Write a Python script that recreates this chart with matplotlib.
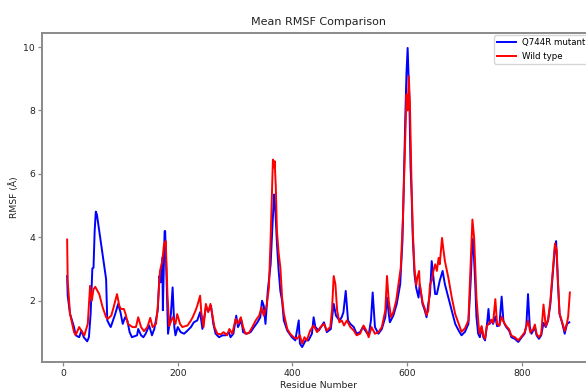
import matplotlib
matplotlib.use("Agg")
import matplotlib.pyplot as plt

# Per-residue mean RMSF (Å)
wt_residue = [7, 8, 12, 19, 22, 28, 32, 37, 43, 47, 50, 53, 56, 63, 69, 75, 78, 84, 88, 94,
              98, 101, 106, 109, 113, 121, 127, 131, 136, 141, 147, 152, 156, 162, 165, 169, 173, 176, 179, 182,
              185, 191, 196, 199, 204, 208, 217, 223, 226, 231, 234, 239, 241, 245, 249, 253, 257, 260, 264, 269,
              275, 280, 286, 290, 295, 301, 305, 310, 314, 318, 324, 330, 336, 342, 346, 350, 355, 359, 362, 364,
              366, 368, 369, 371, 373, 376, 379, 382, 385, 391, 396, 402, 408, 413, 417, 421, 425, 431, 437, 443,
              449, 455, 460, 466, 469, 472, 475, 478, 482, 486, 490, 495, 501, 507, 512, 518, 524, 529, 533, 538,
              544, 550, 556, 562, 565, 568, 572, 576, 581, 585, 589, 593, 597, 599, 601, 603, 605, 608, 610, 613,
              616, 618, 621, 622, 627, 631, 634, 637, 640, 643, 646, 649, 652, 655, 657, 661, 663, 666, 672, 678,
              684, 690, 695, 701, 707, 711, 714, 717, 721, 725, 727, 730, 733, 736, 739, 744, 747, 750, 754, 757,
              761, 765, 768, 773, 778, 782, 788, 794, 800, 805, 811, 815, 820, 823, 826, 830, 834, 838, 842, 846,
              850, 855, 858, 861, 863, 866, 871, 875, 879, 881, 884]
wt_rmsf = [3.93, 2.63, 1.59, 1.01, 0.92, 1.17, 1.05, 0.91, 1.27, 2.47, 2.0, 2.36, 2.44, 2.21, 1.79, 1.48, 1.43, 1.53, 1.79, 2.21,
           1.84, 1.74, 1.74, 1.58, 1.27, 1.17, 1.17, 1.48, 1.17, 1.04, 1.17, 1.46, 1.17, 1.27, 1.79, 2.94, 3.25, 3.79, 3.88, 2.2,
           1.2, 1.48, 1.27, 1.58, 1.27, 1.17, 1.22, 1.38, 1.48, 1.69, 1.84, 2.16, 1.64, 1.17, 1.90, 1.64, 1.90, 1.58, 1.17, 0.96,
           0.94, 1.01, 0.91, 1.11, 0.96, 1.43, 1.27, 1.48, 1.17, 0.96, 0.98, 1.17, 1.38, 1.53, 1.79, 1.53, 1.84, 2.41, 3.98, 5.23,
           6.45, 6.2, 6.4, 5.6, 4.2, 3.5, 3.04, 2.1, 1.6, 1.11, 0.96, 0.85, 0.80, 0.91, 0.65, 0.85, 0.75, 1.06, 1.22, 1.01,
           1.17, 1.27, 1.06, 1.17, 1.69, 2.78, 2.52, 1.69, 1.32, 1.38, 1.22, 1.38, 1.17, 1.06, 0.91, 0.96, 1.22, 1.06, 0.85, 1.17,
           0.96, 1.01, 1.17, 1.69, 2.78, 2.0, 1.48, 1.64, 2.0, 2.52, 3.04, 4.71, 7.3, 8.5, 8.0, 9.08, 8.2, 5.5, 4.2, 3.0,
           2.5, 2.73, 2.94, 2.55, 1.95, 1.75, 1.55, 1.69, 2.52, 2.63, 2.94, 3.15, 2.94, 3.35, 3.15, 3.98, 3.67, 3.25, 2.73, 2.1,
           1.58, 1.27, 1.02, 1.13, 1.38, 3.15, 4.56, 3.98, 2.1, 1.17, 0.95, 1.2, 0.9, 0.8, 1.2, 1.3, 1.4, 1.3, 2.05, 1.27,
           1.22, 1.5, 1.35, 1.2, 1.1, 0.9, 0.85, 0.75, 0.88, 1.0, 1.38, 1.0, 1.1, 1.25, 0.95, 0.85, 0.95, 1.88, 1.2, 1.4,
           2.0, 3.13, 3.8, 3.6, 2.7, 1.6, 1.3, 1.05, 1.3, 1.5, 2.26]

mut_residue = [7, 8, 12, 19, 22, 28, 32, 36, 42, 45, 48, 51, 53, 55, 57, 59, 75, 77, 80, 83,
               85, 91, 96, 100, 104, 108, 112, 116, 120, 129, 131, 136, 140, 144, 150, 155, 159, 165, 168, 170,
               173, 174, 177, 178, 180, 183, 188, 191, 194, 196, 200, 205, 211, 217, 223, 228, 234, 239, 243, 249,
               254, 258, 262, 266, 272, 278, 283, 289, 292, 297, 302, 305, 311, 314, 320, 327, 333, 339, 344, 347,
               350, 353, 357, 362, 365, 368, 370, 373, 376, 379, 382, 385, 391, 399, 405, 411, 413, 417, 423, 428,
               434, 437, 440, 446, 455, 460, 467, 472, 476, 482, 486, 489, 493, 497, 501, 507, 512, 518, 523, 529,
               533, 537, 540, 544, 550, 556, 562, 565, 568, 570, 576, 582, 588, 592, 595, 597, 599, 601, 604, 606,
               608, 610, 613, 616, 620, 622, 627, 631, 634, 637, 640, 643, 646, 649, 652, 657, 662, 666, 672, 678,
               684, 690, 695, 701, 707, 711, 714, 716, 719, 721, 724, 727, 730, 733, 736, 739, 742, 744, 747, 750,
               754, 757, 761, 765, 768, 770, 773, 778, 782, 788, 794, 800, 805, 808, 811, 814, 817, 820, 823, 826,
               830, 834, 838, 842, 846, 850, 855, 858, 860, 863, 866, 871, 875, 879, 883]
mut_rmsf = [2.78, 2.16, 1.59, 1.17, 0.91, 0.85, 1.06, 0.85, 0.72, 0.85, 1.59, 3.02, 3.04, 4.19, 4.81, 4.71, 2.68, 1.38, 1.27, 1.17,
            1.27, 1.59, 1.90, 1.64, 1.27, 1.48, 1.38, 1.01, 0.85, 0.91, 1.11, 0.91, 0.85, 0.96, 1.22, 0.91, 1.11, 1.69, 2.78, 2.58,
            3.36, 1.7, 4.19, 4.2, 3.0, 0.96, 1.58, 2.42, 1.17, 0.91, 1.17, 1.01, 0.96, 1.06, 1.17, 1.32, 1.38, 1.64, 1.11, 1.79,
            1.69, 1.84, 1.27, 0.96, 0.85, 0.91, 0.91, 1.01, 0.85, 0.96, 1.53, 1.17, 1.38, 1.01, 0.96, 1.01, 1.17, 1.32, 1.48, 2.0,
            1.84, 1.27, 2.31, 3.15, 4.3, 5.35, 4.94, 3.8, 2.94, 2.3, 2.0, 1.38, 1.06, 0.85, 0.75, 1.38, 0.65, 0.54, 0.75, 0.75,
            0.96, 1.48, 1.17, 1.06, 1.32, 1.01, 1.11, 1.90, 1.53, 1.38, 1.48, 1.64, 2.31, 1.38, 1.27, 1.17, 0.96, 1.01, 1.17, 1.01,
            0.91, 1.38, 2.26, 1.17, 0.96, 1.11, 1.48, 2.1, 1.6, 1.32, 1.53, 1.9, 2.52, 3.9, 6.27, 7.83, 9.19, 9.97, 8.35, 6.27,
            5.33, 3.98, 2.83, 2.4, 2.1, 2.52, 1.9, 1.69, 1.48, 1.9, 2.21, 3.25, 2.73, 2.21, 2.21, 2.63, 2.94, 2.52, 2.1, 1.69,
            1.27, 1.06, 0.91, 1.02, 1.27, 2.63, 3.95, 3.67, 2.5, 1.5, 0.96, 0.85, 1.17, 0.85, 0.75, 1.17, 1.74, 1.27, 1.38, 1.27,
            1.5, 1.2, 1.22, 2.13, 1.38, 1.27, 1.17, 1.06, 0.85, 0.8, 0.70, 0.85, 0.96, 1.2, 2.21, 1.2, 0.96, 1.06, 1.15, 0.91,
            0.8, 0.91, 1.3, 1.17, 1.38, 1.9, 3.0, 3.7, 3.88, 2.63, 1.58, 1.27, 0.96, 1.27, 1.32]

series_labels = ["Q744R mutant", "Wild type"]

FS = 6.7  # base text size

fig = plt.figure(figsize=(5.86, 3.92), dpi=100)
# axes run slightly past the right edge of the canvas
ax = fig.add_axes([42 / 586, 30 / 392, 553 / 586, 329 / 392])

ax.plot(mut_residue, mut_rmsf, color="blue", lw=1.4, label=series_labels[0])
ax.plot(wt_residue, wt_rmsf, color="red", lw=1.4, label=series_labels[1])

ax.set_xticks([0, 200, 400, 600, 800])
ax.set_yticks([2, 4, 6, 8, 10])
ax.set_title("Mean RMSF Comparison", fontsize=8.0, color="#222222", pad=6)
ax.set_xlabel("Residue Number", fontsize=FS, color="#222222", labelpad=2.5)
ax.set_ylabel("RMSF (Å)", fontsize=FS, color="#222222", labelpad=3)

for side in ax.spines.values():
    side.set_color("#8a8a8a")
    side.set_linewidth(1.4)
ax.tick_params(colors="#8a8a8a", labelcolor="#222222", labelsize=FS, width=0.9,
               length=2.6, pad=2.3)

# legend box anchored by its upper-left corner near the top right of the plot
leg = ax.legend(loc="upper left", bbox_to_anchor=(494 / 586, 357 / 392),
                bbox_transform=fig.transFigure, borderaxespad=0.0, fontsize=6.2,
                frameon=True, handlelength=2.2, handletextpad=0.7, framealpha=0.8)
leg.get_frame().set_edgecolor("#cccccc")

fig.savefig("out.png", dpi=100)
